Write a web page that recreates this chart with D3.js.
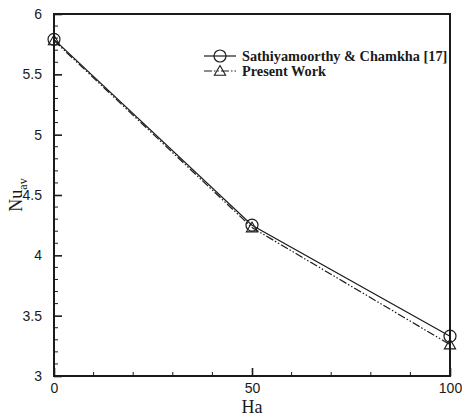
<!DOCTYPE html>
<html>
<head>
<meta charset="utf-8">
<script src="https://cdn.jsdelivr.net/npm/d3@7/dist/d3.min.js"></script>
<style>
  html, body { margin: 0; padding: 0; background: #fff; }
  svg { display: block; }
</style>
</head>
<body>
<div id="chart"></div>
<script>
// Average Nusselt number versus Hartmann number
const hartmann = [0, 50, 100];
const nuReference = [5.79, 4.25, 3.33];   // Sathiyamoorthy & Chamkha [17]
const nuPresent = [5.78, 4.23, 3.26];     // Present Work
const xTicks = [0, 50, 100];
const yTicks = [3, 3.5, 4, 4.5, 5, 5.5, 6];
const seriesNames = ["Sathiyamoorthy & Chamkha [17]", "Present Work"];

const W = 462, H = 417;
const m = { left: 54, right: 12, top: 14, bottom: 41 };

const svg = d3.select("#chart").append("svg")
  .attr("width", W).attr("height", H);

const x = d3.scaleLinear().domain([0, 100]).range([m.left, W - m.right]);
const y = d3.scaleLinear().domain([3, 6]).range([H - m.bottom, m.top]);

const ink = "#1a1a1a";

// minor ticks (inward)
const g = svg.append("g");
d3.range(0, 101, 10).forEach(v => {
  if (v % 50 === 0) return;
  g.append("line").attr("x1", x(v)).attr("x2", x(v))
    .attr("y1", y(3)).attr("y2", y(3) - 4)
    .attr("stroke", ink).attr("stroke-width", 1);
});
d3.range(30, 61, 1).map(v => v / 10).forEach(v => {
  if (Math.round(v * 10) % 5 === 0) return;
  g.append("line").attr("x1", x(0)).attr("x2", x(0) + 4)
    .attr("y1", y(v)).attr("y2", y(v))
    .attr("stroke", ink).attr("stroke-width", 1);
});

// major ticks and labels via d3 axes
const xAxis = d3.axisBottom(x).tickValues(xTicks).tickSizeInner(-8).tickSizeOuter(0).tickPadding(7);
const yAxis = d3.axisLeft(y).tickValues(yTicks).tickSizeInner(-8).tickSizeOuter(0).tickPadding(12)
  .tickFormat(d3.format("~g"));

const gx = svg.append("g").attr("transform", `translate(0,${y(3)})`).call(xAxis);
const gy = svg.append("g").attr("transform", `translate(${x(0)},0)`).call(yAxis);
[gx, gy].forEach(a => {
  a.select(".domain").remove();
  a.selectAll(".tick line").attr("stroke", ink).attr("stroke-width", 1.6);
  a.selectAll(".tick text").attr("fill", ink)
    .style("font-family", "Liberation Sans, Arial, sans-serif").style("font-size", "14px");
});

// frame
svg.append("rect")
  .attr("x", x(0)).attr("y", y(6))
  .attr("width", x(100) - x(0)).attr("height", y(3) - y(6))
  .attr("fill", "none").attr("stroke", ink).attr("stroke-width", 2);

// curves
const line = d3.line().x((d, i) => x(hartmann[i])).y(d => y(d));
svg.append("path").datum(nuReference).attr("d", line)
  .attr("fill", "none").attr("stroke", ink).attr("stroke-width", 1.2);
svg.append("path").datum(nuPresent).attr("d", line)
  .attr("fill", "none").attr("stroke", ink).attr("stroke-width", 1.2)
  .attr("stroke-dasharray", "8,2,1.5,2,1.5,2");

const tri = d3.symbol().type(d3.symbolTriangle).size(55);
function drawCircle(cx, cy) {
  svg.append("circle").attr("cx", cx).attr("cy", cy).attr("r", 6)
    .attr("fill", "none").attr("stroke", ink).attr("stroke-width", 1.2);
}
function drawTri(cx, cy) {
  svg.append("path").attr("d", tri).attr("transform", `translate(${cx},${cy + 1})`)
    .attr("fill", "none").attr("stroke", ink).attr("stroke-width", 1.1);
}
nuReference.forEach((v, i) => drawCircle(x(hartmann[i]), y(v)));
nuPresent.forEach((v, i) => drawTri(x(hartmann[i]), y(v)));

// legend
const lx0 = 204, lx1 = 236, ly = [56, 71];
svg.append("line").attr("x1", lx0).attr("x2", lx1).attr("y1", ly[0]).attr("y2", ly[0])
  .attr("stroke", ink).attr("stroke-width", 1.2);
drawCircle((lx0 + lx1) / 2, ly[0]);
svg.append("line").attr("x1", lx0).attr("x2", lx1).attr("y1", ly[1]).attr("y2", ly[1])
  .attr("stroke", ink).attr("stroke-width", 1.2).attr("stroke-dasharray", "8,2,1.5,2,1.5,2");
drawTri((lx0 + lx1) / 2, ly[1]);
seriesNames.forEach((s, i) => {
  svg.append("text").attr("x", 242).attr("y", ly[i] + 4.5)
    .text(s).attr("fill", ink)
    .style("font-family", "Liberation Serif, Times New Roman, serif")
    .style("font-weight", "bold").style("font-size", "14.3px");
});

// axis titles
svg.append("text").attr("x", x(50)).attr("y", 413).attr("text-anchor", "middle")
  .text("Ha").attr("fill", ink)
  .style("font-family", "Liberation Serif, Times New Roman, serif").style("font-size", "18px");

const yl = svg.append("text").attr("transform", `translate(22,${y(4.5)}) rotate(-90)`)
  .attr("text-anchor", "middle").attr("fill", ink)
  .style("font-family", "Liberation Serif, Times New Roman, serif").style("font-size", "18px");
yl.append("tspan").text("Nu");
yl.append("tspan").text("av").attr("dy", 5).style("font-size", "12px");
</script>
</body>
</html>
